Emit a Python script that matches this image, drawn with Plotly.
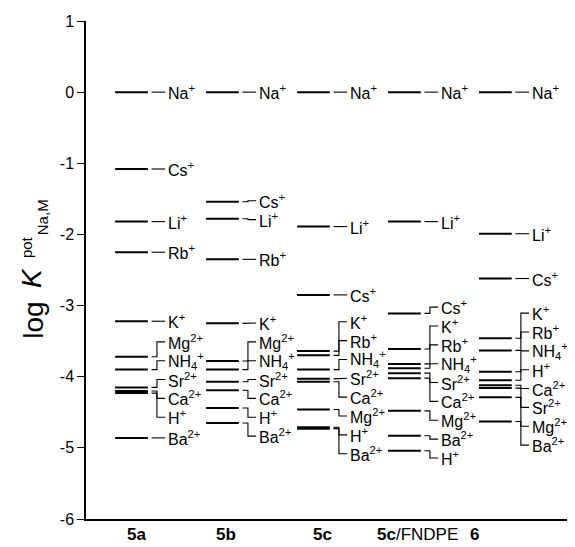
import plotly.graph_objects as go

# ---------------- data ----------------
ions = ["Na", "Cs", "Li", "Rb", "K", "Mg", "NH4", "Sr", "Ca", "H", "Ba"]
ion_text = {
    "Na": "Na<sup>+</sup>", "Cs": "Cs<sup>+</sup>", "Li": "Li<sup>+</sup>",
    "Rb": "Rb<sup>+</sup>", "K": "K<sup>+</sup>", "Mg": "Mg<sup>2+</sup>",
    "NH4": "NH<sub>4</sub><sup>+</sup>", "Sr": "Sr<sup>2+</sup>",
    "Ca": "Ca<sup>2+</sup>", "H": "H<sup>+</sup>", "Ba": "Ba<sup>2+</sup>",
}
columns = ["5a", "5b", "5c", "5c/FNDPE", "6"]
column_text = ["<b>5a</b>", "<b>5b</b>", "<b>5c</b>", "<b>5c</b>/FNDPE", "<b>6</b>"]

#            Na    Cs     Li     Rb     K      Mg     NH4    Sr     Ca     H      Ba
logK_5a = [0.00, -1.08, -1.82, -2.25, -3.22, -3.72, -3.90, -4.15, -4.20, -4.23, -4.86]
logK_5b = [0.00, -1.54, -1.78, -2.35, -3.25, -3.78, -3.90, -4.07, -4.19, -4.44, -4.65]
logK_5c = [0.00, -2.85, -1.89, -3.70, -3.64, -4.46, -3.90, -4.03, -4.07, -4.71, -4.73]
logK_5cF = [0.00, -3.11, -1.82, -3.82, -3.61, -4.48, -3.88, -3.95, -4.02, -5.04, -4.83]
logK_6 = [0.00, -2.62, -1.99, -3.63, -3.46, -4.29, -3.93, -4.16, -4.12, -4.05, -4.63]
values = [logK_5a, logK_5b, logK_5c, logK_5cF, logK_6]

y_ticks = [1, 0, -1, -2, -3, -4, -5, -6]


# ---------------- label de-overlap ----------------
def spread(vals, d):
    order = sorted(range(len(vals)), key=lambda k: -vals[k])
    v = [vals[k] for k in order]
    groups = [[j] for j in range(len(v))]

    def place(g):
        c = sum(v[j] for j in g) / len(g)
        top = c + (len(g) - 1) * d / 2
        return [top - m * d for m in range(len(g))]

    changed = True
    while changed:
        changed = False
        for gi in range(len(groups) - 1):
            a = place(groups[gi])
            b = place(groups[gi + 1])
            if a[-1] - b[0] < d - 1e-9:
                groups[gi] = groups[gi] + groups[gi + 1]
                del groups[gi + 1]
                changed = True
                break
    out = [0.0] * len(vals)
    for g in groups:
        for j, p in zip(g, place(g)):
            out[order[j]] = p
    return out


LABEL_GAP = 0.265
HALF = 0.18
C0, C1, C2, TX = 0.22, 0.28, 0.37, 0.38
FONT = "Liberation Sans, Arial, Helvetica, sans-serif"

fig = go.Figure()
lx, ly, cx, cy = [], [], [], []
annotations = []
for i, vals in enumerate(values):
    labs = spread(vals, LABEL_GAP)
    for ion, v, lab in zip(ions, vals, labs):
        lx += [i - HALF, i + HALF, None]
        ly += [v, v, None]
        cx += [i + C0, i + C1, i + C1, i + C2, None]
        cy += [v, v, lab, lab, None]
        annotations.append(dict(
            x=i + TX, y=lab, xref="x", yref="y", text=ion_text[ion],
            showarrow=False, xanchor="left", yanchor="middle",
            font=dict(family=FONT, size=16, color="black"),
        ))

fig.add_trace(go.Scatter(x=lx, y=ly, mode="lines",
                         line=dict(color="black", width=2), hoverinfo="skip"))
fig.add_trace(go.Scatter(x=cx, y=cy, mode="lines",
                         line=dict(color="black", width=1.1), hoverinfo="skip"))

# the page body has an 8px margin, so the figure is placed 8px in from the corner
OFF = 8
L, T, PW, PH = 86 - OFF, 19 - OFF, 484, 500
W, H = 575 - OFF, 547 - OFF


def px_x(p):
    return (p - OFF - L) / PW


def px_y(p):
    return (T + PH - (p - OFF)) / PH


# column labels
col_x = [0.06, 1.04, 2.10, 3.14, 3.77]
for xx, t in zip(col_x, column_text):
    annotations.append(dict(
        x=xx, y=px_y(535), xref="x", yref="paper", text=t, showarrow=False,
        xanchor="center", yanchor="middle",
        font=dict(family=FONT, size=17, color="black"),
    ))

# y-axis title pieces
annotations += [
    dict(x=px_x(34), y=px_y(320), xref="paper", yref="paper", text="log",
         textangle=-90, showarrow=False, xanchor="center", yanchor="middle",
         font=dict(family=FONT, size=28, color="black")),
    dict(x=px_x(32), y=px_y(277), xref="paper", yref="paper", text="<i>K</i>",
         textangle=-90, showarrow=False, xanchor="center", yanchor="middle",
         font=dict(family=FONT, size=28, color="black")),
    dict(x=px_x(26), y=px_y(246), xref="paper", yref="paper", text="pot",
         textangle=-90, showarrow=False, xanchor="center", yanchor="middle",
         font=dict(family=FONT, size=15, color="black")),
    dict(x=px_x(42), y=px_y(216), xref="paper", yref="paper", text="Na,M",
         textangle=-90, showarrow=False, xanchor="center", yanchor="middle",
         font=dict(family=FONT, size=15, color="black")),
]

fig.update_layout(
    width=W, height=H,
    margin=dict(l=L, r=W - L - PW, t=T, b=H - T - PH),
    paper_bgcolor="white", plot_bgcolor="white",
    showlegend=False,
    annotations=annotations,
    xaxis=dict(range=[-0.5, 4.82], showgrid=False, zeroline=False,
               showticklabels=False, ticks="", showline=True,
               linecolor="black", linewidth=1.5),
    yaxis=dict(range=[-6, 1], tickvals=y_ticks, ticktext=[str(t) for t in y_ticks],
               showgrid=False, zeroline=False, showline=True, linecolor="black",
               linewidth=1.5, ticks="outside", ticklen=7, tickwidth=1.3,
               tickcolor="black",
               tickfont=dict(family=FONT, size=16, color="black")),
)

fig.write_html("out.html")
